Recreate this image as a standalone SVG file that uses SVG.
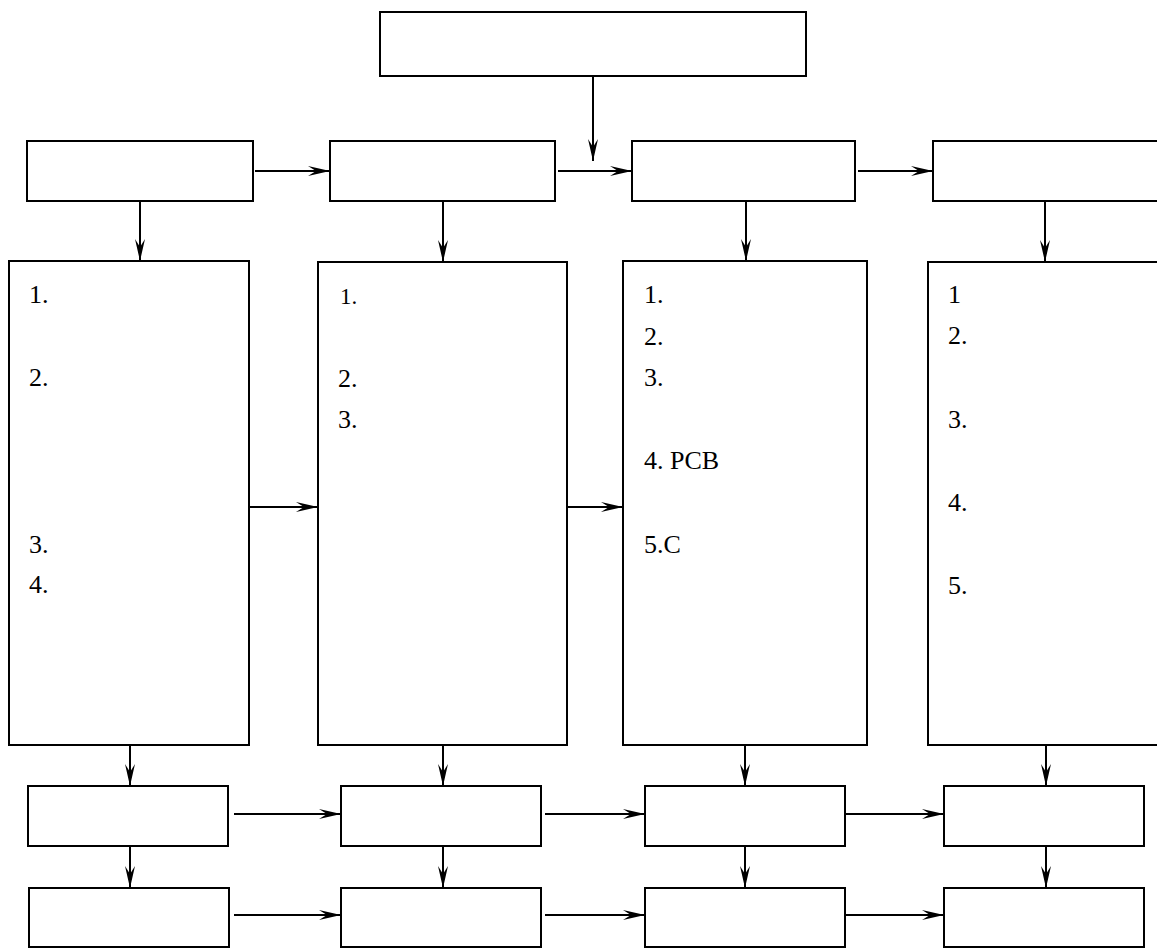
<svg xmlns="http://www.w3.org/2000/svg" width="1157" height="948" viewBox="0 0 1157 948">
<style>
.box{fill:#fff;stroke:#000;stroke-width:2}
.ln{fill:none;stroke:#000;stroke-width:2;marker-end:url(#ah)}
.t{font-family:"Liberation Serif","Times New Roman",serif;font-size:26px;fill:#000}
.ts{font-size:23px}
</style>
<defs>
<marker id="ah" markerUnits="userSpaceOnUse" markerWidth="24" markerHeight="14" viewBox="-23 -7 24 14" refX="0" refY="0" orient="auto">
<path d="M0,0 L-22,-5 L-14,0 L-22,5 Z" fill="#000"/>
</marker>
</defs>
<rect width="1157" height="948" fill="#fff"/>
<g id="top"><rect class="box" x="380" y="12" width="426" height="64"/></g>
<g id="r1a"><rect class="box" x="27" y="141" width="226" height="60"/></g>
<g id="r1b"><rect class="box" x="330" y="141" width="225" height="60"/></g>
<g id="r1c"><rect class="box" x="632" y="141" width="223" height="60"/></g>
<g id="r1d"><rect class="box" x="933" y="141" width="240" height="60"/></g>
<g id="tallA"><rect class="box" x="9" y="261" width="240" height="484"/>
<text class="t" x="29" y="303">1.</text>
<text class="t" x="29" y="386">2.</text>
<text class="t" x="29" y="553">3.</text>
<text class="t" x="29" y="593">4.</text></g>
<g id="tallB"><rect class="box" x="318" y="262" width="249" height="483"/>
<text class="t ts" x="340" y="304">1.</text>
<text class="t" x="338" y="387">2.</text>
<text class="t" x="338" y="428">3.</text></g>
<g id="tallC"><rect class="box" x="623" y="261" width="244" height="484"/>
<text class="t" x="644" y="303">1.</text>
<text class="t" x="644" y="345">2.</text>
<text class="t" x="644" y="386">3.</text>
<text class="t" x="644" y="469">4. PCB</text>
<text class="t" x="644" y="553">5.C</text></g>
<g id="tallD"><rect class="box" x="928" y="262" width="240" height="483"/>
<text class="t" x="948" y="303">1</text>
<text class="t" x="948" y="344">2.</text>
<text class="t" x="948" y="428">3.</text>
<text class="t" x="948" y="511">4.</text>
<text class="t" x="948" y="594">5.</text></g>
<g id="r3a"><rect class="box" x="28" y="786" width="200" height="60"/></g>
<g id="r3b"><rect class="box" x="341" y="786" width="200" height="60"/></g>
<g id="r3c"><rect class="box" x="645" y="786" width="200" height="60"/></g>
<g id="r3d"><rect class="box" x="944" y="786" width="200" height="60"/></g>
<g id="r4a"><rect class="box" x="29" y="888" width="200" height="59"/></g>
<g id="r4b"><rect class="box" x="341" y="888" width="200" height="59"/></g>
<g id="r4c"><rect class="box" x="645" y="888" width="200" height="59"/></g>
<g id="r4d"><rect class="box" x="944" y="888" width="200" height="59"/></g>
<g id="connectors">
<line class="ln" x1="593" y1="76" x2="593" y2="161"/>
<line class="ln" x1="255" y1="171" x2="330" y2="171"/>
<line class="ln" x1="558" y1="171" x2="632" y2="171"/>
<line class="ln" x1="858" y1="171" x2="933" y2="171"/>
<line class="ln" x1="140" y1="201" x2="140" y2="261"/>
<line class="ln" x1="443" y1="201" x2="443" y2="262"/>
<line class="ln" x1="746" y1="201" x2="746" y2="261"/>
<line class="ln" x1="1045" y1="201" x2="1045" y2="262"/>
<line class="ln" x1="249" y1="507" x2="318" y2="507"/>
<line class="ln" x1="567" y1="507" x2="623" y2="507"/>
<line class="ln" x1="130" y1="745" x2="130" y2="786"/>
<line class="ln" x1="443" y1="745" x2="443" y2="786"/>
<line class="ln" x1="745" y1="745" x2="745" y2="786"/>
<line class="ln" x1="1046" y1="745" x2="1046" y2="786"/>
<line class="ln" x1="130" y1="846" x2="130" y2="888"/>
<line class="ln" x1="443" y1="846" x2="443" y2="888"/>
<line class="ln" x1="745" y1="846" x2="745" y2="888"/>
<line class="ln" x1="1046" y1="846" x2="1046" y2="888"/>
<line class="ln" x1="234" y1="814" x2="341" y2="814"/>
<line class="ln" x1="545" y1="814" x2="645" y2="814"/>
<line class="ln" x1="846" y1="814" x2="944" y2="814"/>
<line class="ln" x1="234" y1="915" x2="341" y2="915"/>
<line class="ln" x1="545" y1="915" x2="645" y2="915"/>
<line class="ln" x1="846" y1="915" x2="944" y2="915"/>
</g>
</svg>
